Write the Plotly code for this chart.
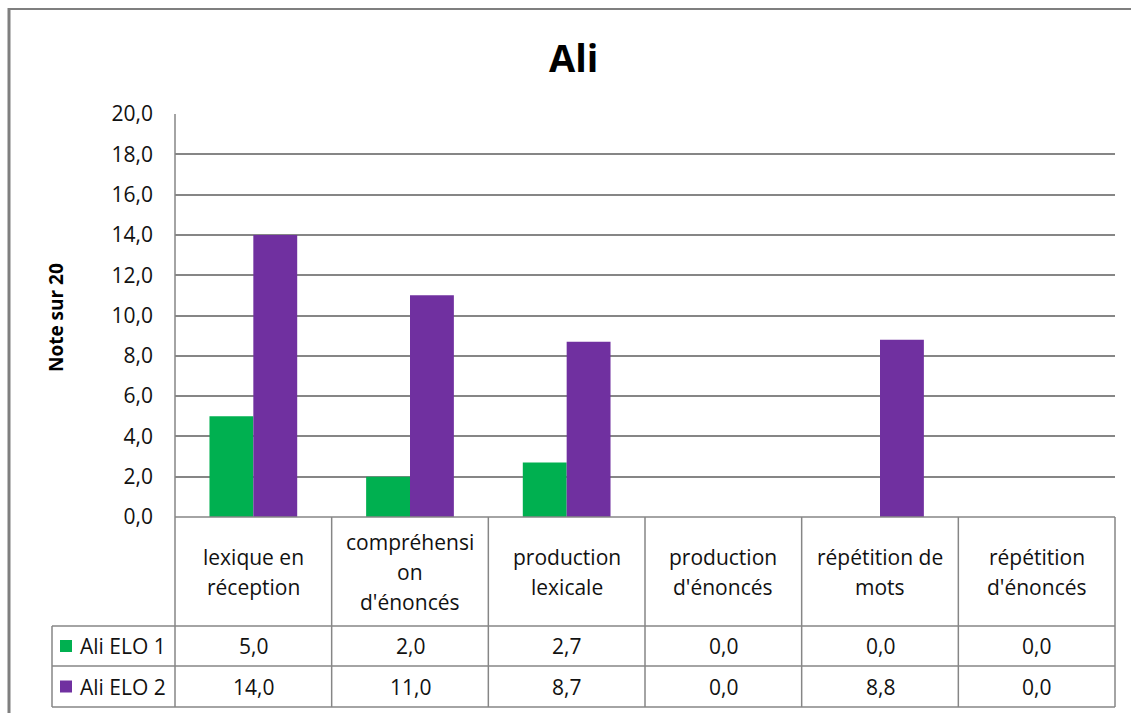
import plotly.graph_objects as go

# ---- data ----
categories = [
    "lexique en<br>réception",
    "compréhensi<br>on<br>d'énoncés",
    "production<br>lexicale",
    "production<br>d'énoncés",
    "répétition de<br>mots",
    "répétition<br>d'énoncés",
]
series_names = ["Ali ELO 1", "Ali ELO 2"]
elo1 = [5.0, 2.0, 2.7, 0.0, 0.0, 0.0]
elo2 = [14.0, 11.0, 8.7, 0.0, 8.8, 0.0]
colors = ["#00B050", "#7030A0"]
y_ticks = [0, 2, 4, 6, 8, 10, 12, 14, 16, 18, 20]

# ---- layout geometry (pixels) ----
W, H = 1131, 713
L, R, T, B = 175, 1115, 114, 517   # plot area edges
LEG_X = 52                         # left edge of the legend column in the table
ROW_HEAD_BOT = 626
ROW1_BOT = 666
ROW2_BOT = 707
GRID = "#868686"
FONT = "Open Sans"
TXT = "#111111"
TABLE_SIZE = 21


def xp(px):
    return (px - L) / (R - L)


def yp(py):
    return (B - py) / (B - T)


def fmt(v):
    return f"{v:.1f}".replace(".", ",")


fig = go.Figure()
for name, vals, col in zip(series_names, [elo1, elo2], colors):
    fig.add_trace(go.Bar(x=list(range(len(categories))), y=vals, name=name,
                         marker=dict(color=col, line=dict(width=0))))

shapes = []
annotations = []
n = len(categories)

# outer chart frame
shapes.append(dict(type="line", xref="paper", yref="paper", x0=xp(9), x1=xp(9),
                   y0=yp(8), y1=yp(720), line=dict(color="#7f7f7f", width=3)))
shapes.append(dict(type="line", xref="paper", yref="paper", x0=xp(8), x1=xp(1140),
                   y0=yp(9), y1=yp(9), line=dict(color="#7f7f7f", width=2)))

# data table grid
line_style = dict(color=GRID, width=1.5)
for i in range(n + 1):
    x = i / n
    y_top = yp(T) if i == 0 else yp(B)
    shapes.append(dict(type="line", xref="paper", yref="paper", x0=x, x1=x,
                       y0=y_top, y1=yp(ROW2_BOT), line=line_style))
shapes.append(dict(type="line", xref="paper", yref="paper", x0=0, x1=1,
                   y0=yp(B), y1=yp(B), line=line_style))
for py in (ROW_HEAD_BOT, ROW1_BOT, ROW2_BOT):
    shapes.append(dict(type="line", xref="paper", yref="paper", x0=xp(LEG_X), x1=1,
                       y0=yp(py), y1=yp(py), line=line_style))
shapes.append(dict(type="line", xref="paper", yref="paper", x0=xp(LEG_X), x1=xp(LEG_X),
                   y0=yp(ROW_HEAD_BOT), y1=yp(ROW2_BOT), line=line_style))

# category header text, one annotation per line
head_mid = (B + ROW_HEAD_BOT) / 2
line_gap = 30
for i, cat in enumerate(categories):
    parts = cat.split("<br>")
    start = head_mid - line_gap * (len(parts) - 1) / 2
    for k, part in enumerate(parts):
        annotations.append(dict(text=part, xref="paper", yref="paper",
                                x=(i + 0.5) / n, y=yp(start + k * line_gap),
                                showarrow=False, xanchor="center", yanchor="middle",
                                font=dict(family=FONT, size=TABLE_SIZE, color=TXT)))

# value rows with legend keys
row_bounds = [(ROW_HEAD_BOT, ROW1_BOT), (ROW1_BOT, ROW2_BOT)]
for (top, bot), name, vals, col in zip(row_bounds, series_names, [elo1, elo2], colors):
    mid = (top + bot) / 2
    shapes.append(dict(type="rect", xref="paper", yref="paper",
                       x0=xp(60), x1=xp(72), y0=yp(mid - 6), y1=yp(mid + 6),
                       fillcolor=col, line=dict(width=0)))
    annotations.append(dict(text=name, xref="paper", yref="paper", x=xp(78), y=yp(mid),
                            showarrow=False, xanchor="left", yanchor="middle",
                            font=dict(family=FONT, size=TABLE_SIZE, color=TXT)))
    for i, v in enumerate(vals):
        annotations.append(dict(text=fmt(v), xref="paper", yref="paper",
                                x=(i + 0.5) / n, y=yp(mid),
                                showarrow=False, xanchor="center", yanchor="middle",
                                font=dict(family=FONT, size=TABLE_SIZE, color=TXT)))

# title and axis title
annotations.append(dict(text="<b>Ali</b>", xref="paper", yref="paper", x=xp(573), y=yp(57),
                        showarrow=False, xanchor="center", yanchor="middle",
                        font=dict(family=FONT, size=38, color="#000000")))
annotations.append(dict(text="<b>Note sur 20</b>", xref="paper", yref="paper",
                        x=xp(56), y=yp(318), textangle=-90,
                        showarrow=False, xanchor="center", yanchor="middle",
                        font=dict(family=FONT, size=19, color="#000000")))

fig.update_layout(
    width=W, height=H,
    margin=dict(l=L, r=W - R, t=T, b=H - B, pad=0),
    paper_bgcolor="white", plot_bgcolor="white",
    barmode="group", bargap=0.44, bargroupgap=0,
    showlegend=False,
    separators=",.",
    shapes=shapes, annotations=annotations,
    xaxis=dict(range=[-0.5, n - 0.5], showticklabels=False, showgrid=False,
               zeroline=False, showline=False, ticks=""),
    yaxis=dict(range=[0, 20], tickvals=y_ticks, tickformat=".1f",
               showgrid=True, gridcolor=GRID, gridwidth=1.5, zeroline=False,
               showline=False, ticks="", ticklabelstandoff=21,
               tickfont=dict(family=FONT, size=21, color=TXT)),
)

fig.write_html("out.html")
